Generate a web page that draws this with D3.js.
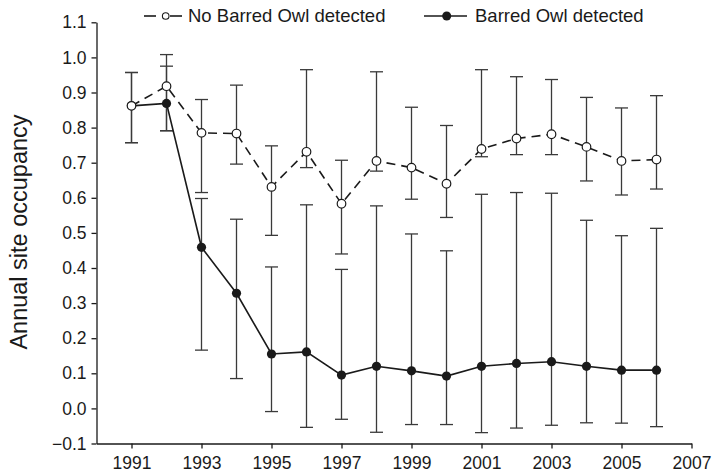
<!DOCTYPE html>
<html><head><meta charset="utf-8">
<script src="https://cdn.jsdelivr.net/npm/d3@7"></script>
<style>
body{margin:0;background:#fff;}
svg{display:block;font-family:"Liberation Sans",Arial,Helvetica,sans-serif;}
</style></head>
<body><svg id="c" width="712" height="474"></svg>
<script>
const years = [1991,1992,1993,1994,1995,1996,1997,1998,1999,2000,2001,2002,2003,2004,2005,2006];
const noOwl   = [0.862,0.918,0.785,0.783,0.631,0.731,0.583,0.705,0.686,0.640,0.739,0.769,0.781,0.745,0.705,0.709];
const noOwlLo = [0.757,0.791,0.615,0.696,0.493,0.686,0.440,0.676,0.596,0.544,0.717,0.723,0.723,0.648,0.608,0.625];
const noOwlHi = [0.957,1.008,0.880,0.921,0.748,0.965,0.707,0.959,0.858,0.806,0.965,0.945,0.937,0.886,0.856,0.891];
const owl   = [0.862,0.869,0.459,0.328,0.155,0.161,0.095,0.120,0.107,0.092,0.120,0.128,0.133,0.120,0.109,0.109];
const owlLo = [0.757,0.791,0.166,0.085,-0.009,-0.054,-0.031,-0.068,-0.046,-0.046,-0.069,-0.056,-0.048,-0.041,-0.042,-0.052];
const owlHi = [0.957,0.975,0.598,0.539,0.403,0.580,0.396,0.577,0.497,0.449,0.610,0.615,0.613,0.536,0.492,0.513];
const xTicks = [1991,1993,1995,1997,1999,2001,2003,2005,2007];
const yTicks = [-0.1,0.0,0.1,0.2,0.3,0.4,0.5,0.6,0.7,0.8,0.9,1.0,1.1];
const seriesNames = ["No Barred Owl detected","Barred Owl detected"];
const yLabel = "Annual site occupancy";

const svg = d3.select("#c");
const ink = "#1a1a1a";
const x = d3.scaleLinear().domain([1990,2007]).range([96.5,691.5]);
const y = d3.scaleLinear().domain([-0.1,1.1]).range([443.5,22.3]);

// axes
const gx = svg.append("g").attr("transform",`translate(0,${y(-0.1)})`)
  .call(d3.axisBottom(x).tickValues(xTicks).tickFormat(d3.format("d")).tickSize(5).tickSizeOuter(0).tickPadding(8));
const gy = svg.append("g").attr("transform",`translate(${x(1990)},0)`)
  .call(d3.axisLeft(y).tickValues(yTicks).tickFormat(d3.format(".1f")).tickSize(5).tickSizeOuter(0).tickPadding(5));
[gx,gy].forEach(g=>{
  g.selectAll("path,line").attr("stroke",ink).attr("stroke-width",1.3);
  g.selectAll("text").attr("fill",ink).style("font-size","17.5px").attr("font-family",null);
});
gy.selectAll("text").text(d=> d<0 ? "\u2212"+Math.abs(d).toFixed(1) : d.toFixed(1));
gy.selectAll("text").text(d=> d.toFixed(1).replace("-","−"));

svg.append("text").attr("transform",`translate(27,${(112.7+351.3)/2}) rotate(-90)`)
  .attr("text-anchor","middle").attr("fill",ink).style("font-size","23.5px").text(yLabel);

// error bars
function errBars(lo,hi){
  const g = svg.append("g").attr("stroke","#3a3a3a").attr("stroke-width",1.3).attr("fill","none");
  years.forEach((yr,i)=>{
    const cx = x(yr);
    g.append("line").attr("x1",cx).attr("x2",cx).attr("y1",y(lo[i])).attr("y2",y(hi[i]));
    g.append("line").attr("x1",cx-6.5).attr("x2",cx+6.5).attr("y1",y(lo[i])).attr("y2",y(lo[i]));
    g.append("line").attr("x1",cx-6.5).attr("x2",cx+6.5).attr("y1",y(hi[i])).attr("y2",y(hi[i]));
  });
}
errBars(owlLo,owlHi);
errBars(noOwlLo,noOwlHi);

const line = d3.line().x((d,i)=>x(years[i])).y(d=>y(d));
svg.append("path").datum(owl).attr("d",line).attr("fill","none").attr("stroke",ink).attr("stroke-width",1.6);
svg.append("path").datum(noOwl).attr("d",line).attr("fill","none").attr("stroke",ink).attr("stroke-width",1.6).attr("stroke-dasharray","9,6");

svg.append("g").selectAll("circle").data(owl).join("circle")
  .attr("cx",(d,i)=>x(years[i])).attr("cy",d=>y(d)).attr("r",4.6).attr("fill",ink);
svg.append("g").selectAll("circle").data(noOwl).join("circle")
  .attr("cx",(d,i)=>x(years[i])).attr("cy",d=>y(d)).attr("r",4.3).attr("fill","#fff").attr("stroke",ink).attr("stroke-width",1.2);

// legend
const lg = svg.append("g");
lg.append("line").attr("x1",144).attr("x2",156).attr("y1",16).attr("y2",16).attr("stroke",ink).attr("stroke-width",1.6);
lg.append("line").attr("x1",170).attr("x2",182).attr("y1",16).attr("y2",16).attr("stroke",ink).attr("stroke-width",1.6);
lg.append("circle").attr("cx",165.7).attr("cy",16).attr("r",3.3).attr("fill","#fff").attr("stroke",ink).attr("stroke-width",1.1);
lg.append("text").attr("x",188).attr("y",22).attr("fill",ink).style("font-size","18.5px").text(seriesNames[0]);
lg.append("line").attr("x1",424).attr("x2",467).attr("y1",16).attr("y2",16).attr("stroke",ink).attr("stroke-width",1.6);
lg.append("circle").attr("cx",446.7).attr("cy",16).attr("r",4.5).attr("fill",ink);
lg.append("text").attr("x",475).attr("y",22).attr("fill",ink).style("font-size","18.5px").text(seriesNames[1]);
</script></body></html>
